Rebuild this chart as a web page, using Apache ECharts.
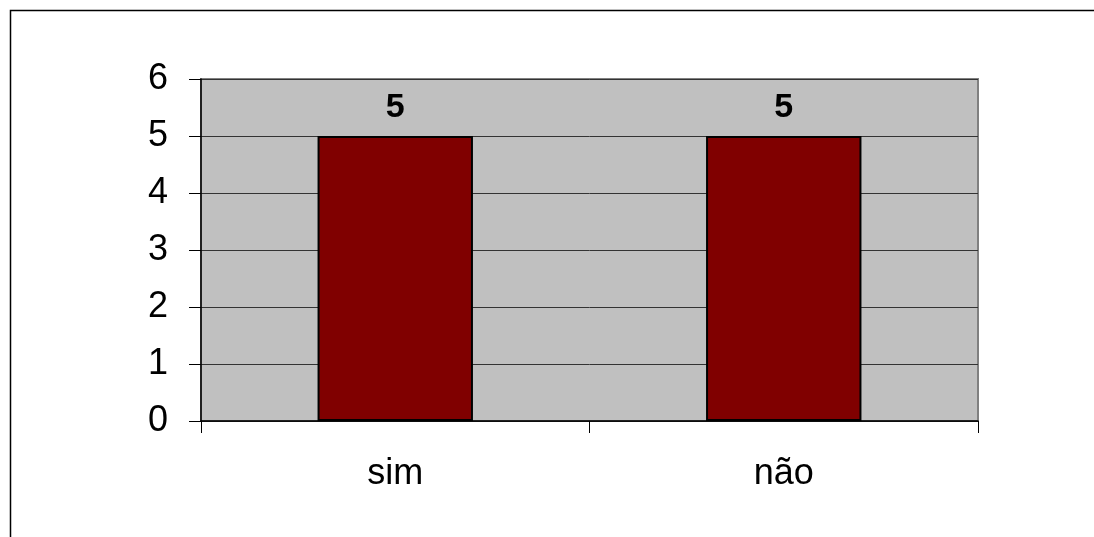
<!DOCTYPE html>
<html>
<head>
<meta charset="utf-8">
<script src="https://cdn.jsdelivr.net/npm/echarts@6/dist/echarts.min.js"></script>
<style>
  html, body { margin: 0; padding: 0; background: #fff; }
  #main { width: 1094px; height: 537px; }
</style>
</head>
<body>
<div id="main"></div>
<script>
// 数据
var categories = ['sim', 'não'];
var values = [5, 5];
var yTicks = [0, 1, 2, 3, 4, 5, 6];

var myChart = echarts.init(document.getElementById('main'));

var option = {
    animation: false,
    textStyle: { fontFamily: 'Liberation Sans, Arial, sans-serif' },
    graphic: [
        {
            type: 'rect',
            shape: { x: 10.5, y: 10.5, width: 1200, height: 600 },
            style: { fill: 'none', stroke: '#000', lineWidth: 1.5 },
            silent: true
        }
    ],
    grid: {
        left: 201,
        right: 116,
        top: 79,
        bottom: 116,
        show: true,
        backgroundColor: '#C0C0C0',
        borderColor: '#808080',
        borderWidth: 2
    },
    xAxis: {
        type: 'category',
        data: categories,
        axisLine: { lineStyle: { color: '#000', width: 1.5 } },
        axisTick: { show: true, length: 12, lineStyle: { color: '#000' } },
        axisLabel: { color: '#000', fontSize: 36, margin: 35 }
    },
    yAxis: {
        type: 'value',
        min: yTicks[0],
        max: yTicks[yTicks.length - 1],
        interval: 1,
        axisLine: { show: true, lineStyle: { color: '#000', width: 1.5 } },
        axisTick: { show: true, length: 12, lineStyle: { color: '#000' } },
        axisLabel: { color: '#000', fontSize: 36, margin: 33 },
        splitLine: { lineStyle: { color: '#333', width: 1 } }
    },
    series: [
        {
            type: 'bar',
            data: values,
            barWidth: '40%',
            itemStyle: { color: '#800000', borderColor: '#000', borderWidth: 2 },
            label: {
                show: true,
                position: 'top',
                distance: 11,
                color: '#000',
                fontSize: 34,
                fontWeight: 'bold'
            }
        }
    ]
};

myChart.setOption(option);
</script>
</body>
</html>
